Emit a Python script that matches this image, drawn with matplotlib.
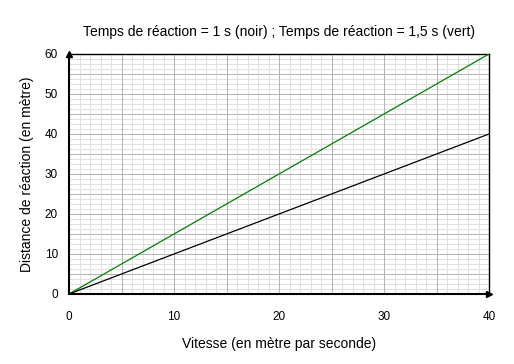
import matplotlib
matplotlib.use("Agg")
import matplotlib.pyplot as plt

plt.rcParams['font.family'] = ['Liberation Sans', 'DejaVu Sans']

vitesse = [0, 40]
dist_noir = [0, 40]   # temps de réaction 1 s
dist_vert = [0, 60]   # temps de réaction 1,5 s

x_ticks = [0, 10, 20, 30, 40]
y_ticks = [0, 10, 20, 30, 40, 50, 60]

fig = plt.figure(figsize=(5.14, 3.64), dpi=100)
ax = fig.add_axes([69/514, 70/364, 420/514, 240/364])

ax.set_xlim(0, 40)
ax.set_ylim(0, 60)

# grid
for v in range(0, 41, 1):
    ax.axvline(v, color='#e0e0e0' if v % 5 else '#b4b4b4', lw=0.72, zorder=0 if v % 5 else 1)
for i in range(0, 49):
    y = i * 1.25
    ax.axhline(y, color='#b4b4b4' if i % 4 == 0 else '#e0e0e0', lw=0.72, zorder=1 if i % 4 == 0 else 0)

ax.plot(vitesse, dist_vert, color='#008000', lw=0.9, zorder=3)
ax.plot(vitesse, dist_noir, color='black', lw=0.9, zorder=3)

for s in ['top', 'right']:
    ax.spines[s].set_linewidth(1)
for s in ['left', 'bottom']:
    ax.spines[s].set_linewidth(1.5)

# arrows
ax.plot([0], [60], marker='^', color='black', markersize=5, clip_on=False, zorder=5)
ax.plot([40], [0], marker='>', color='black', markersize=5, clip_on=False, zorder=5)

ax.set_xticks(x_ticks)
ax.set_yticks(y_ticks)
ax.set_xticklabels([str(t) for t in x_ticks])
ax.set_yticklabels([str(t) for t in y_ticks])
ax.tick_params(which='both', length=0)
ax.tick_params(axis='x', pad=12, labelsize=8.5)
ax.tick_params(axis='y', pad=8, labelsize=8.5)

ax.set_xlabel('Vitesse (en mètre par seconde)', fontsize=10, labelpad=10)
ax.set_ylabel('Distance de réaction (en mètre)', fontsize=10, labelpad=8)
ax.set_title('Temps de réaction = 1 s (noir) ; Temps de réaction = 1,5 s (vert)',
             fontsize=10, pad=13)

fig.savefig('out.png', dpi=100)
